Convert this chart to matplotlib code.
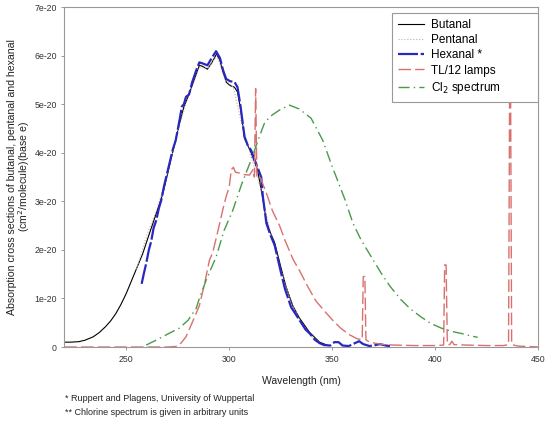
import numpy as np
import matplotlib
matplotlib.use("Agg")
import matplotlib.pyplot as plt

plt.rcParams['font.family'] = ['Liberation Sans', 'DejaVu Sans']

# wavelength (nm) / cross section (1e-20 cm2/molecule)
but_wl = [220, 223, 227, 230, 234, 237, 240, 242.5, 245, 247.5, 250, 254, 258, 261.3, 264.6, 267.8,
          270, 272.5, 275, 278, 280, 283, 285.5, 287, 289.4, 291.5, 293.8, 295.5, 297, 298.6, 300.5,
          302.5, 304, 305.5, 307.4, 310.6, 313.7, 316.3, 318, 320, 322, 325, 327.5, 330.8, 334, 339,
          343.8, 348]
but_val = [0.1, 0.1, 0.11, 0.14, 0.21, 0.3, 0.42, 0.54, 0.69, 0.88, 1.1, 1.51, 1.92, 2.34, 2.75, 3.16,
           3.55, 4.0, 4.45, 4.95, 5.15, 5.5, 5.8, 5.78, 5.72, 5.85, 6.03, 5.9, 5.65, 5.45, 5.38,
           5.35, 5.25, 4.9, 4.3, 4.0, 3.65, 3.05, 2.6, 2.35, 2.15, 1.65, 1.25, 0.85, 0.6, 0.3,
           0.1, 0.03]

pen_wl = [255, 260, 265, 270, 275, 280, 285, 290, 294, 298, 302, 306, 310, 315, 320, 325, 330, 335, 340, 345]
pen_val = [1.6, 2.3, 2.85, 3.55, 4.45, 5.15, 5.75, 5.75, 6.0, 5.5, 5.35, 4.6, 4.0, 3.3, 2.35, 1.6, 0.9, 0.5, 0.22, 0.05]

hex_wl = [257.5, 258.5, 259.7, 261, 262.1, 263.3, 264.6, 265.8, 267, 268.3, 269.4, 271, 272.5, 274,
          276, 277, 278, 279, 280.5, 282, 284, 285.5, 287, 289.4, 291.5, 293.6, 295.5, 297, 298.5,
          300.5, 302.5, 304, 305.5, 307.4, 309, 310.6, 313.7, 315.5, 316.3, 318, 320, 322, 325,
          327, 330, 334, 337, 339, 341.5, 343.8, 346, 349, 351, 353, 355, 358, 361, 363, 365,
          368, 371, 373, 376, 378]
hex_val = [1.3, 1.5, 1.72, 2.0, 2.17, 2.45, 2.61, 2.85, 3.02, 3.3, 3.5, 3.78, 4.05, 4.25,
           4.7, 4.95, 5.0, 5.15, 5.2, 5.45, 5.7, 5.86, 5.84, 5.8, 5.95, 6.09, 5.95, 5.7, 5.52,
           5.47, 5.46, 5.35, 4.95, 4.33, 4.15, 4.05, 3.7, 3.5, 3.1, 2.55, 2.3, 2.1, 1.55,
           1.2, 0.82, 0.56, 0.36, 0.28, 0.15, 0.08, 0.04, 0.03, 0.1, 0.1, 0.03, 0.02, 0.08, 0.12, 0.06,
           0.02, 0.04, 0.06, 0.03, 0.02]

tl_wl = [220, 240, 260, 270, 274, 276, 279, 282, 285.5, 288, 290.4, 292, 294, 297, 298.5, 300, 301,
         302, 303, 305, 307, 309.8, 311.5, 312.2, 312.8, 313.4, 315, 318, 321, 324.4, 327, 329, 331,
         334, 338, 342, 346, 350, 354, 358, 362, 364.5, 365, 365.8, 366.3, 368, 370.5, 375, 380,
         390, 400, 404, 404.5, 405.2, 405.8, 407, 408, 409, 415, 425, 433, 435.5, 436, 436.5, 437,
         440, 450]
tl_val = [0, 0, 0, 0, 0.01, 0.05, 0.21, 0.5, 0.85, 1.3, 1.79, 1.95, 2.3, 2.85, 3.1, 3.3, 3.65,
          3.7, 3.6, 3.58, 3.55, 3.54, 3.65, 3.5, 5.32, 3.5, 3.5, 3.17, 2.8, 2.5, 2.2, 2.0, 1.8,
          1.58, 1.25, 0.95, 0.75, 0.56, 0.39, 0.26, 0.17, 0.15, 1.45, 1.45, 0.15, 0.1, 0.08, 0.05, 0.04,
          0.03, 0.03, 0.04, 1.69, 1.69, 0.05, 0.05, 0.12, 0.05, 0.04, 0.03, 0.03, 0.05, 5.2, 5.2, 0.05,
          0.02, 0.0]

cl_wl = [259.7, 264, 269.4, 275.8, 280, 284, 285.5, 289, 293.6, 297.5, 301.6, 306, 310.6, 314.6,
         317, 319.6, 324.4, 329.2, 334, 339.7, 345.3, 350, 356, 360, 364, 369, 373.7, 378, 383.4,
         388, 393, 398, 402.8, 408, 412.5, 417, 420.5]
cl_val = [0.04, 0.13, 0.25, 0.39, 0.55, 0.8, 1.0, 1.4, 1.85, 2.4, 2.8, 3.35, 3.85, 4.33,
          4.6, 4.74, 4.88, 4.98, 4.9, 4.71, 4.26, 3.71, 3.05, 2.55, 2.2, 1.85, 1.52, 1.25, 0.97,
          0.78, 0.62, 0.48, 0.39, 0.32, 0.28, 0.23, 0.2]

x_ticks = [250, 300, 350, 400, 450]
y_ticks = [0, 1e-20, 2e-20, 3e-20, 4e-20, 5e-20, 6e-20, 7e-20]
y_labels = ['0', '1e-20', '2e-20', '3e-20', '4e-20', '5e-20', '6e-20', '7e-20']

scale = 1e-20

fig = plt.figure(figsize=(5.5, 4.25), dpi=100)
ax = fig.add_axes([0.117, 0.1835, 0.862, 0.8])

ax.plot(but_wl, np.array(but_val) * scale, color='black', lw=0.8, label='Butanal')
ax.plot(pen_wl, np.array(pen_val) * scale, color='#c9a9a9', lw=0.8, ls=':', label='Pentanal')
ax.plot(hex_wl, np.array(hex_val) * scale, color='#2828c0', lw=1.6, ls=(0, (9, 1.2)), label='Hexanal *')
ax.plot(tl_wl, np.array(tl_val) * scale, color='#d97070', lw=1.0, ls=(0, (9, 3)), label='TL/12 lamps')
ax.plot(cl_wl, np.array(cl_val) * scale, color='#4a9a4a', lw=1.0, ls=(0, (8, 3, 1, 3)), label='Cl$_2$ spectrum')

ax.set_xlim(220, 450)
ax.set_ylim(0, 7e-20)
ax.set_xticks(x_ticks)
ax.set_yticks(y_ticks)
ax.set_yticklabels(y_labels)
ax.tick_params(labelsize=6.3, colors='#333333', length=2, width=0.6, color='#888888')

for s in ax.spines.values():
    s.set_color('#999999')
    s.set_linewidth(0.8)

ax.set_xlabel('Wavelength (nm)', fontsize=7.5, color='#222222', labelpad=9)
ax.set_ylabel('Absorption cross sections of butanal, pentanal and hexanal\n(cm$^2$/molecule)(base e)',
              fontsize=7.6, color='#222222', linespacing=0.9)
ax.yaxis.set_label_coords(-0.068, 0.5)

leg = ax.legend(loc='upper left', bbox_to_anchor=(0.691, 0.726, 0.308, 0.256), mode='expand',
                borderaxespad=0, fontsize=8.5, fancybox=False, framealpha=1, edgecolor='#999999',
                handlelength=2.2, handletextpad=0.6, labelspacing=0.27, borderpad=0.5)
leg.get_frame().set_linewidth(0.8)

fig.text(0.118, 0.056, '* Ruppert and Plagens, University of Wuppertal', fontsize=6.5, color='#222222')
fig.text(0.118, 0.023, '** Chlorine spectrum is given in arbitrary units', fontsize=6.5, color='#222222')

fig.savefig('out.png', dpi=100)
